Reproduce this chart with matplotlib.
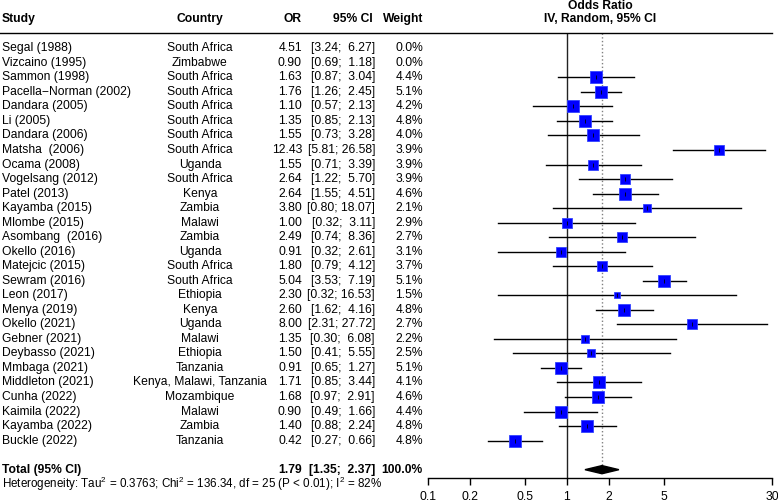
import numpy as np
import matplotlib
matplotlib.use("Agg")
import matplotlib.pyplot as plt
from matplotlib import transforms
from matplotlib.lines import Line2D

plt.rcParams['font.family'] = ['Liberation Sans', 'DejaVu Sans']
plt.rcParams['mathtext.default'] = 'regular'

# dane z obrazka
studies = ["Segal (1988)", "Vizcaino (1995)", "Sammon (1998)", "Pacella\u2212Norman (2002)",
           "Dandara (2005)", "Li (2005)", "Dandara (2006)", "Matsha  (2006)", "Ocama (2008)",
           "Vogelsang (2012)", "Patel (2013)", "Kayamba (2015)", "Mlombe (2015)",
           "Asombang  (2016)", "Okello (2016)", "Matejcic (2015)", "Sewram (2016)",
           "Leon (2017)", "Menya (2019)", "Okello (2021)", "Gebner (2021)",
           "Deybasso (2021)", "Mmbaga (2021)", "Middleton (2021)", "Cunha (2022)",
           "Kaimila (2022)", "Kayamba (2022)", "Buckle (2022)"]
countries = ["South Africa", "Zimbabwe", "South Africa", "South Africa", "South Africa",
             "South Africa", "South Africa", "South Africa", "Uganda", "South Africa",
             "Kenya", "Zambia", "Malawi", "Zambia", "Uganda", "South Africa",
             "South Africa", "Ethiopia", "Kenya", "Uganda", "Malawi", "Ethiopia",
             "Tanzania", "Kenya, Malawi, Tanzania", "Mozambique", "Malawi", "Zambia",
             "Tanzania"]
odds = [4.51, 0.90, 1.63, 1.76, 1.10, 1.35, 1.55, 12.43, 1.55, 2.64, 2.64, 3.80, 1.00,
        2.49, 0.91, 1.80, 5.04, 2.30, 2.60, 8.00, 1.35, 1.50, 0.91, 1.71, 1.68, 0.90,
        1.40, 0.42]
ci_low = [3.24, 0.69, 0.87, 1.26, 0.57, 0.85, 0.73, 5.81, 0.71, 1.22, 1.55, 0.80, 0.32,
          0.74, 0.32, 0.79, 3.53, 0.32, 1.62, 2.31, 0.30, 0.41, 0.65, 0.85, 0.97, 0.49,
          0.88, 0.27]
ci_high = [6.27, 1.18, 3.04, 2.45, 2.13, 2.13, 3.28, 26.58, 3.39, 5.70, 4.51, 18.07, 3.11,
           8.36, 2.61, 4.12, 7.19, 16.53, 4.16, 27.72, 6.08, 5.55, 1.27, 3.44, 2.91, 1.66,
           2.24, 0.66]
weights = [0.0, 0.0, 4.4, 5.1, 4.2, 4.8, 4.0, 3.9, 3.9, 3.9, 4.6, 2.1, 2.9, 2.7, 3.1,
           3.7, 5.1, 1.5, 4.8, 2.7, 2.2, 2.5, 5.1, 4.1, 4.6, 4.4, 4.8, 4.8]
total_or, total_low, total_high = 1.79, 1.35, 2.37
ticks = [0.1, 0.2, 0.5, 1, 2, 5, 30]
tick_labels = ["0.1", "0.2", "0.5", "1", "2", "5", "30"]

W, H = 778, 503
fig = plt.figure(figsize=(W / 100, H / 100), dpi=100)

# oś wykresu w pikselach: 0.1 -> 428, 30 -> 772, góra 33, dół 478
row0, step = 48.3, 14.53
top_px, bot_px = 33, 478
ax = fig.add_axes([428 / W, 1 - bot_px / H, (772 - 428) / W, (bot_px - top_px) / H])
ax.set_xscale('log')
ax.set_xlim(0.1, 30)
ax.set_ylim((bot_px - row0) / step, (top_px - row0) / step)
for s in ['top', 'right', 'left']:
    ax.spines[s].set_visible(False)
ax.spines['bottom'].set_linewidth(1)
ax.set_yticks([])
ax.set_xticks(ticks)
ax.set_xticklabels(tick_labels)
ax.minorticks_off()
ax.tick_params(axis='x', length=5, width=1, pad=4, labelsize=8.8)
ax.patch.set_visible(False)

total_row = len(studies) + 1

ax.axvline(1, color='#222222', lw=1, zorder=1)
ax.plot([total_or, total_or], [ax.get_ylim()[1], total_row - 0.25], ls=':', color='grey',
        lw=1, zorder=1)

for i in range(len(studies)):
    if weights[i] == 0:
        continue
    ax.plot([ci_low[i], ci_high[i]], [i, i], color='black', lw=1, zorder=2)
    size = 12.5 * np.sqrt(weights[i] / 5.1) * 0.72
    ax.plot(odds[i], i, marker='s', ms=size, color='#0000FF', mec='#3344FF', mew=0.6,
            zorder=3)
    ax.plot(odds[i], i, marker='|', ms=3, color='black', mew=0.6, zorder=4)

ax.fill([total_low, total_or, total_high, total_or],
        [total_row, total_row - 0.28, total_row, total_row + 0.28],
        color='black', zorder=3)

# tabelka po lewej
tr = transforms.blended_transform_factory(fig.transFigure, ax.transData)
fs = 8.7
hy = (19 - row0) / step
fig.text(2 / W, hy, "Study", transform=tr, fontsize=fs, fontweight='bold', va='center')
fig.text(200 / W, hy, "Country", transform=tr, fontsize=fs, fontweight='bold',
         va='center', ha='center')
fig.text(302 / W, hy, "OR", transform=tr, fontsize=fs, fontweight='bold', va='center',
         ha='right')
fig.text(373 / W, hy, "95% CI", transform=tr, fontsize=fs, fontweight='bold',
         va='center', ha='right')
fig.text(423 / W, hy, "Weight", transform=tr, fontsize=fs, fontweight='bold',
         va='center', ha='right')
fig.text(600 / W, (5.5 - row0) / step, "Odds Ratio", transform=tr, fontsize=fs,
         fontweight='bold', va='center', ha='center')
fig.text(600 / W, hy, "IV, Random, 95% CI", transform=tr, fontsize=fs,
         fontweight='bold', va='center', ha='center')

fig.add_artist(Line2D([0, 772 / W], [1 - top_px / H, 1 - top_px / H],
                      transform=fig.transFigure, color='black', lw=1))


def ci_str(lo, hi):
    pad = "  " if hi < 10 else " "
    return f"[{lo:.2f};{pad}{hi:.2f}]"


for i in range(len(studies)):
    fig.text(2 / W, i, studies[i], transform=tr, fontsize=fs, va='center')
    fig.text(200 / W, i, countries[i], transform=tr, fontsize=fs, va='center',
             ha='center')
    fig.text(302 / W, i, f"{odds[i]:.2f}", transform=tr, fontsize=fs, va='center',
             ha='right')
    fig.text(375 / W, i, ci_str(ci_low[i], ci_high[i]), transform=tr, fontsize=fs,
             va='center', ha='right')
    fig.text(423 / W, i, f"{weights[i]:.1f}%", transform=tr, fontsize=fs, va='center',
             ha='right')

fig.text(2 / W, total_row, "Total (95% CI)", transform=tr, fontsize=fs,
         fontweight='bold', va='center')
fig.text(302 / W, total_row, f"{total_or:.2f}", transform=tr, fontsize=fs,
         fontweight='bold', va='center', ha='right')
fig.text(375 / W, total_row, ci_str(total_low, total_high), transform=tr, fontsize=fs,
         fontweight='bold', va='center', ha='right')
fig.text(423 / W, total_row, "100.0%", transform=tr, fontsize=fs, fontweight='bold',
         va='center', ha='right')
fig.text(2 / W, (484 - row0) / step,
         "Heterogeneity: Tau$^2$ = 0.3763; Chi$^2$ = 136.34, df = 25 (P < 0.01); I$^2$ = 82%",
         transform=tr, fontsize=8.4, va='center')

fig.savefig("out.png", dpi=100)
